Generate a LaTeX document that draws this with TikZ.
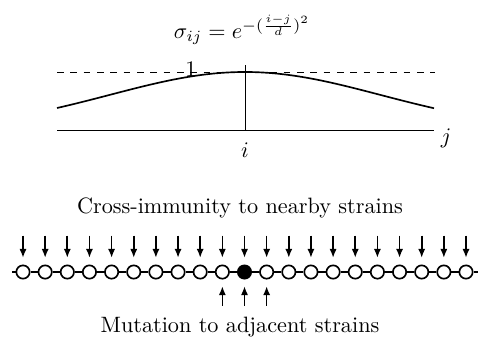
\documentclass[tikz,border=0pt]{standalone}
\usepackage{amsmath}
\usetikzlibrary{arrows.meta, positioning}

\begin{document}
\begin{tikzpicture}[
    strain/.style={circle, draw, fill=white, line width=0.75pt,
                   inner sep=0pt, minimum size=6pt},
    hit/.style={strain, fill=black},
    link/.style={line width=0.75pt},
    arr/.style={-{Latex[length=4pt, width=3.2pt]}, line width=0.75pt,
                shorten >=3pt},
    x=0.45pt, y=-0.45pt
  ]
  \useasboundingbox (0,0) rectangle (479,347);

  % cross-immunity profile
  \node (form) at (242,30) {$\sigma_{ij} = e^{-(\frac{i-j}{d})^2}$};
  \coordinate (dl) at (57,72);
  \coordinate (dr) at (435,72);
  \coordinate (axl) at (57,130);
  \coordinate (axr) at (434,130);
  \coordinate (axi) at (245,130);
  \coordinate (top) at (245,65);
  \draw[dashed, thin] (dl) -- (dr);
  \draw[thin] (axl) -- (axr);
  \draw[thin] (top) -- (axi);
  \draw[line width=0.75pt] plot[domain=57:434, samples=80, smooth]
    (\x, {130-58*exp(-((\x-245)/191)^2)});
  \node[inner sep=0pt] (one) at (191,69) {1};
  \node (labi) at (245,150) {$i$};
  \node (labj) at (446,138) {$j$};

  \node (cap1) at (240,208) {Cross-immunity to nearby strains};

  % chain of strains
  \foreach \k in {1,...,10,12,13,...,21}
    \node[strain] (s\k) at ({23+22.15*(\k-1)},272) {};
  \node[hit] (s11) at ({23+22.15*10},272) {};
  \coordinate (cl) at (12,272);
  \coordinate (cr) at (478,272);
  \draw[link] (cl) -- (s1);
  \draw[link] (s21) -- (cr);
  \foreach \k [count=\n from 2] in {1,...,20}
    \draw[link] (s\k) -- (s\n);

  % immunity arrows
  \foreach \k in {1,...,21} {
    \coordinate[above=13pt of s\k.north] (d\k);
    \draw[arr] (d\k) -- (s\k);
  }
  % mutation arrows
  \foreach \k in {10,11,12} {
    \coordinate[below=11.7pt of s\k.south] (u\k);
    \draw[arr] (u\k) -- (s\k);
  }

  \node (cap2) at (240,327) {Mutation to adjacent strains};
\end{tikzpicture}
\end{document}
